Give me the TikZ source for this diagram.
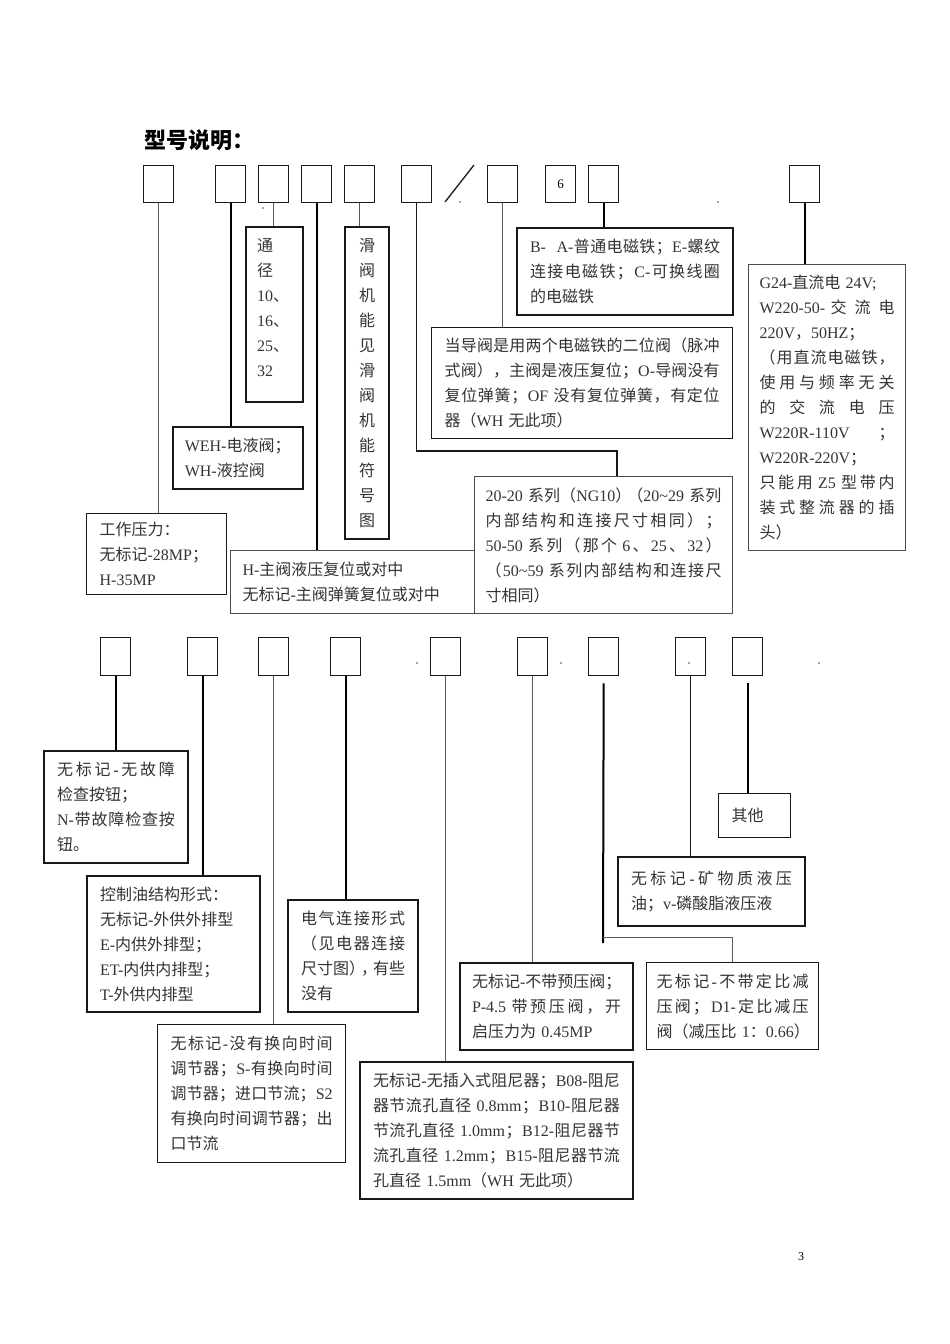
\documentclass[tikz,border=0pt]{standalone}
\usepackage{fontspec}
\setmainfont{Liberation Serif}
\newfontfamily\cjk{Noto Sans CJK SC}

% CJK characters go to the CJK font, everything else stays in the serif
\newcount\cjkcode
\newcommand\cjkrange[2]{%
  \cjkcode=#1\relax
  \loop\XeTeXcharclass\cjkcode=1\relax
    \advance\cjkcode by 1\relax
  \ifnum\cjkcode<#2\relax\repeat}
\cjkrange{"3000}{"3040}
\cjkrange{"4E00}{"A000}
\cjkrange{"FF00}{"FFF0}
\newcommand\cjkgap{\nobreak\hskip0pt plus 1pt\relax}
\XeTeXinterchartoks 4095 1 = {\cjk}
\XeTeXinterchartoks 255 1 = {\cjk}
\XeTeXinterchartoks 4095 0 = {\rmfamily}
\XeTeXinterchartoks 255 0 = {\rmfamily}
\XeTeXinterchartoks 0 1 = {\cjk\cjkgap}
\XeTeXinterchartoks 1 0 = {\cjkgap\rmfamily}
\XeTeXinterchartoks 1 1 = {\cjkgap}
\XeTeXinterchartokenstate=1
\AtBeginDocument{\XeTeXinterchartokenstate=1 }

% a line spread over the whole text width
\newcommand\jline[1]{\makebox[\hsize][s]{#1}}

\tikzset{
  codebox/.style={draw=black!90, line width=1.4pt, minimum width=30pt, minimum height=37pt,
    inner sep=0pt, anchor=north west, font=\fontsize{13}{15}\selectfont},
  descbox/.style={draw=black!90, line width=1.3pt, anchor=north west, inner xsep=13pt,
    inner ysep=0pt, align=left, text=black!80, font=\fontsize{16}{25}\selectfont},
  thinbox/.style={descbox, draw=black!70, line width=1pt},
  heavyline/.style={draw=black, line width=2pt},
  midline/.style={draw=black!90, line width=1.3pt},
  lightline/.style={draw=black!65, line width=1pt},
}

\begin{document}
\begin{tikzpicture}[x=1pt,y=-1pt]
  \useasboundingbox (0,0) rectangle (950,1344);

  % Title
  \node[font=\fontsize{22}{26}\selectfont\bfseries, anchor=west, inner sep=0pt] (title) at (144,140) {型号说明：};

  % Top row of code boxes
  \foreach \n/\x in {t1/143, t2/215, t3/258, t4/301, t5/344, t6/401, t7/487, t9/588, t10/789}
    \node[codebox] (\n) at (\x,165) {};
  \node[codebox] (t8) at (545,165) {6};
  \draw[midline] (445,202) -- (474,165);

  % Top descriptions
  \node[descbox, line width=2pt, inner xsep=11pt, text width=35pt, minimum height=175pt] (tongjing) at (245,226)
    {通\\径\\10、\\16、\\25、\\32\\[-12pt]\mbox{}};
  \node[descbox, line width=2pt, align=center, inner xsep=12pt, text width=20pt, minimum height=312pt] (huafa) at (344,226)
    {滑\\阀\\机\\能\\见\\滑\\阀\\机\\能\\符\\号\\图};
  \node[descbox, line width=2pt, text width=190pt, minimum height=87pt] (solenoid) at (516,227)
    {\jline{B-\ \ A-普通电磁铁；E-螺纹}\\\jline{连接电磁铁；C-可换线圈}\\的电磁铁};
  \node[descbox, text width=275pt, minimum height=111pt] (pilot) at (431,327)
    {\jline{当导阀是用两个电磁铁的二位阀（脉冲}\\\jline{式阀），主阀是液压复位；O-导阀没有}\\
     \jline{复位弹簧；OF 没有复位弹簧，有定位}\\器（WH 无此项）};
  \node[thinbox, inner xsep=11pt, text width=135pt, minimum height=286pt] (voltage) at (748,264)
    {G24-直流电 24V;\\\jline{W220-50- 交流电}\\220V，50HZ；\\\jline{（用直流电磁铁，}\\\jline{使用与频率无关}\\
     \jline{的交流电压}\\\jline{W220R-110V\hfill；}\\W220R-220V；\\\jline{只能用 Z5 型带内}\\\jline{装式整流器的插}\\头）};
  \node[descbox, line width=1.6pt, inner xsep=12pt, text width=106pt, minimum height=62pt] (weh) at (172,426)
    {WEH-电液阀；\\WH-液控阀};
  \node[descbox, text width=114pt, minimum height=81pt] (pressure) at (86,513)
    {工作压力：\\无标记-28MP；\\H-35MP};
  \node[thinbox, inner xsep=12pt, text width=220pt, minimum height=63pt] (reset) at (230,550)
    {H-主阀液压复位或对中\\无标记-主阀弹簧复位或对中};
  \node[thinbox, inner xsep=11pt, text width=236pt, minimum height=137pt] (series) at (474,476)
    {\jline{20-20 系列（NG10）\kern-4pt（20\textasciitilde29 系列}\\\jline{内部结构和连接尺寸相同）；}\\
     \jline{50-50 系列（那个 6、25、32）}\\\jline{（50\textasciitilde59 系列内部结构和连接尺}\\寸相同）};

  % Top connectors
  \draw[lightline] (t1.south) -- (t1.south |- pressure.north);
  \draw[heavyline] (t2.south) -- (t2.south |- weh.north);
  \draw[lightline] (t3.south) -- (t3.south |- tongjing.north);
  \draw[heavyline] (t4.south) -- (t4.south |- reset.north);
  \draw[lightline] (t5.south) -- (t5.south |- huafa.north);
  \coordinate (bend6) at (617,451);
  \draw[midline] (t6.south) |- (bend6) -- (bend6 |- series.north);
  \draw[lightline] (t7.south) -- (t7.south |- pilot.north);
  \draw[heavyline] (t9.south) -- (t9.south |- solenoid.north);
  \draw[heavyline] (t10.south) -- (t10.south |- voltage.north);

  % Bottom row of code boxes
  \foreach \n/\x in {b1/100, b2/187, b3/258, b4/330, b5/430, b6/517, b7/588, b8/675, b9/732}
    \node[codebox, minimum height=38pt] (\n) at (\x,637) {};

  % Bottom descriptions
  \node[descbox, line width=2pt, text width=118pt, minimum height=112pt] (button) at (43,750)
    {\jline{无标记-无故障}\\检查按钮；\\\jline{N-带故障检查按}\\钮。};
  \node[descbox, line width=2pt, text width=147pt, minimum height=136pt] (oilpath) at (86,875)
    {控制油结构形式：\\无标记-外供外排型\\E-内供外排型；\\ET-内供内排型；\\T-外供内排型};
  \node[descbox, line width=2pt, text width=104pt, minimum height=112pt] (electric) at (287,899)
    {\jline{电气连接形式}\\\jline{（见电器连接}\\\jline{尺寸图）\kern-4pt，\kern-4pt有些}\\没有};
  \node[descbox, text width=162pt, minimum height=138pt] (switching) at (157,1024)
    {\jline{无标记-没有换向时间}\\\jline{调节器；S-有换向时间}\\\jline{调节器；进口节流；S2}\\
     \jline{有换向时间调节器；出}\\口节流};
  \node[descbox, line width=2pt, text width=247pt, minimum height=137pt] (damper) at (359,1061)
    {\jline{无标记-无插入式阻尼器；B08-阻尼}\\\jline{器节流孔直径 0.8mm；B10-阻尼器}\\
     \jline{节流孔直径 1.0mm；B12-阻尼器节}\\\jline{流孔直径 1.2mm；B15-阻尼器节流}\\孔直径 1.5mm（WH 无此项）};
  \node[descbox, line width=2pt, inner xsep=12pt, text width=149pt, minimum height=87pt] (prevalve) at (459,962)
    {\jline{无标记-不带预压阀；}\\\jline{P-4.5\ 带预压阀，开}\\启压力为 0.45MP};
  \node[descbox, inner xsep=10pt, text width=152pt, minimum height=87pt] (reducer) at (646,962)
    {\jline{无标记-不带定比减}\\\jline{压阀；D1-定比减压}\\\jline{阀（减压比 1：0.66）}};
  \node[descbox, line width=2pt, text width=161pt, minimum height=69pt] (fluid) at (617,856)
    {\jline{无标记-矿物质液压}\\油；v-磷酸脂液压液};
  \node[descbox, text width=46pt, minimum height=44pt] (other) at (718,793) {其他};

  % Bottom connectors
  \draw[heavyline] (b1.south) -- (b1.south |- button.north);
  \draw[heavyline] (b2.south) -- (b2.south |- oilpath.north);
  \draw[lightline] (b3.south) -- (b3.south |- switching.north);
  \draw[heavyline] (b4.south) -- (b4.south |- electric.north);
  \draw[lightline] (b5.south) -- (b5.south |- damper.north);
  \draw[lightline] (b6.south) -- (b6.south |- prevalve.north);
  \coordinate (bend7) at (603,937);
  \draw[heavyline] ([yshift=-7pt]b7.south) -- ([yshift=-6pt]bend7);
  \draw[lightline] (bend7) -| (reducer.north);
  \draw[midline] (b8.south) -- (b8.south |- fluid.north);
  \draw[heavyline] ([yshift=-7pt]b9.south) -- (b9.south |- other.north);

  % Stray dots
  \foreach \p in {(263,208), (460,202), (718,202), (417,663), (561,663), (689,663), (819,663)}
    \fill[black!70] \p circle (0.8pt);

  % Page number
  \node[font=\fontsize{12}{14}\selectfont] (page) at (801,1257) {3};
\end{tikzpicture}
\end{document}
